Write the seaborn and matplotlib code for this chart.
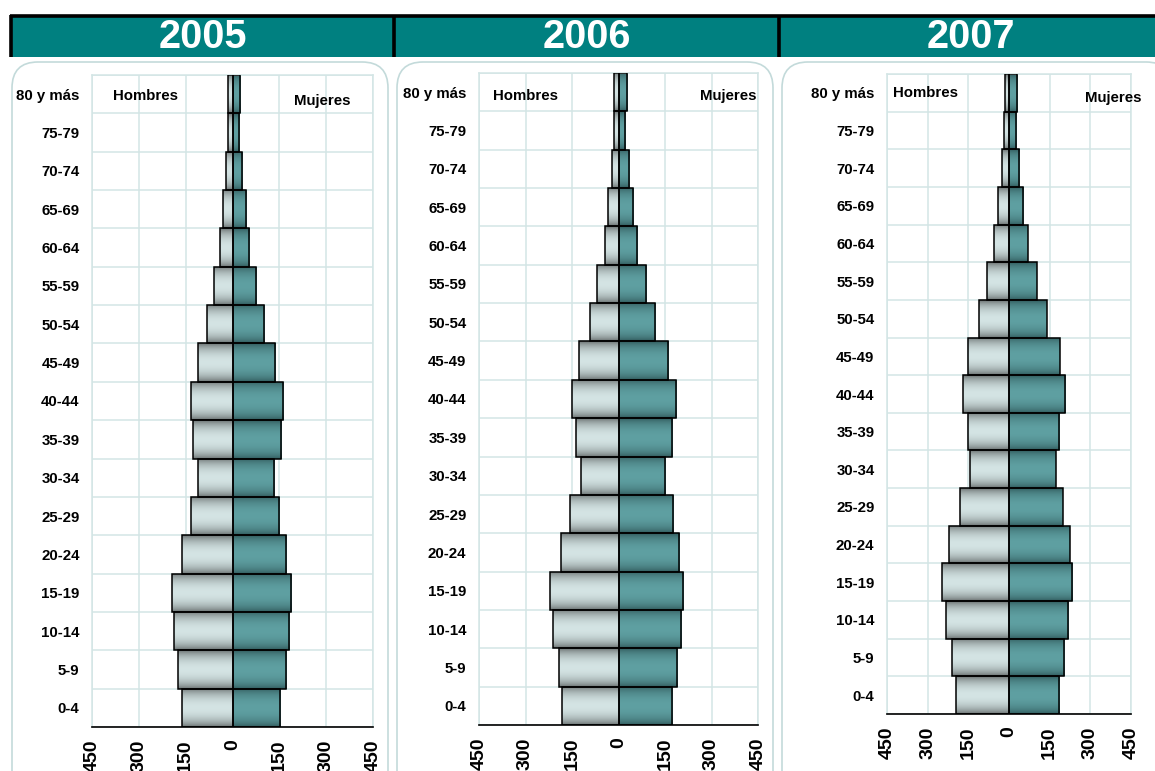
import numpy as np
import pandas as pd
import seaborn as sns
import matplotlib
matplotlib.use("Agg")
import matplotlib.pyplot as plt
from matplotlib.patches import FancyBboxPatch, Rectangle
from matplotlib.colors import to_rgb

# ---------------- data ----------------
ages = ["80 y más", "75-79", "70-74", "65-69", "60-64", "55-59", "50-54", "45-49",
        "40-44", "35-39", "30-34", "25-29", "20-24", "15-19", "10-14", "5-9", "0-4"]
years = ["2005", "2006", "2007"]
hombres_2005 = [13, 13, 22, 31, 39, 60, 81, 111, 134, 128, 111, 134, 162, 194, 188, 175, 162]
mujeres_2005 = [23, 20, 32, 42, 52, 76, 100, 137, 162, 156, 132, 149, 171, 186, 181, 171, 151]
hombres_2006 = [14, 16, 21, 34, 45, 68, 92, 128, 150, 137, 122, 156, 187, 221, 210, 192, 182]
mujeres_2006 = [27, 21, 33, 47, 60, 89, 118, 160, 186, 172, 149, 176, 195, 207, 201, 188, 172]
hombres_2007 = [16, 18, 26, 39, 55, 81, 111, 153, 171, 151, 144, 181, 221, 247, 232, 210, 194]
mujeres_2007 = [30, 26, 38, 52, 70, 103, 140, 188, 207, 185, 173, 199, 225, 234, 219, 203, 185]
x_ticks = [-450, -300, -150, 0, 150, 300, 450]
x_tick_labels = ["450", "300", "150", "0", "150", "300", "450"]

hombres = [hombres_2005, hombres_2006, hombres_2007]
mujeres = [mujeres_2005, mujeres_2006, mujeres_2007]

# ---------------- style ----------------
sns.set_style("white")
plt.rcParams["font.family"] = ["Liberation Sans", "DejaVu Sans"]
plt.rcParams["font.weight"] = "bold"
plt.rcParams["text.color"] = "black"
plt.rcParams["xtick.color"] = "black"
plt.rcParams["ytick.color"] = "black"
plt.rcParams["xtick.labelcolor"] = "black"
plt.rcParams["ytick.labelcolor"] = "black"

W, H = 1155, 771
fig = plt.figure(figsize=(W / 100, H / 100), dpi=100)

TEAL = "#008080"
GRID = "#D3E5E5"
BOXEDGE = "#C3DADA"

# background axes in pixel coordinates
bg = fig.add_axes([0, 0, 1, 1], zorder=-10)
bg.set_xlim(0, W)
bg.set_ylim(H, 0)
bg.axis("off")

# rounded panel boxes
panel_boxes = [(12, 62, 376), (397, 62, 376), (782, 62, 390)]
for (bx, by, bw) in panel_boxes:
    bg.add_patch(FancyBboxPatch((bx, by), bw, 780, boxstyle="round,pad=0,rounding_size=26",
                                facecolor="white", edgecolor=BOXEDGE, lw=1.2))

# header band
bg.add_patch(Rectangle((10, 16), 1160, 41, facecolor=TEAL, edgecolor="none"))
bg.plot([10, 1160], [15.5, 15.5], color="black", lw=2.6, solid_capstyle="butt")
for sx in [11, 394, 779]:
    bg.plot([sx, sx], [15, 57], color="black", lw=2.6, solid_capstyle="butt")
header_centers = [203, 587, 971]
for yr, cx in zip(years, header_centers):
    bg.text(cx, 37, yr, color="white", fontsize=28.5, fontweight="bold",
            ha="center", va="center")

# plot areas (pixels): left, right, top, bottom
areas = [(92, 373, 75, 727), (479, 758, 73, 725), (887, 1131, 74, 714)]
hombres_pos = [(145, 96), (526, 96), (925, 93)]
mujeres_pos = [(322, 101), (728, 96), (1113, 98)]


def shade(ax, patches, dark, light, power):
    t = np.linspace(0, 1, 80)
    f = np.sin(np.pi * t) ** power
    d = np.array(to_rgb(dark))
    l = np.array(to_rgb(light))
    img = (d[None, :] * (1 - f[:, None]) + l[None, :] * f[:, None])[:, None, :]
    for p in patches:
        x0, y0 = p.get_x(), p.get_y()
        w, h = p.get_width(), p.get_height()
        im = ax.imshow(img, extent=(min(x0, x0 + w), max(x0, x0 + w), y0 + h, y0),
                       aspect="auto", zorder=2, interpolation="bilinear")
        im.set_clip_path(p)
        p.set_facecolor("none")
        p.set_zorder(3)


for i in range(3):
    l, r, t, b = areas[i]
    ax = fig.add_axes([l / W, 1 - b / H, (r - l) / W, (b - t) / H])
    ax.set_facecolor("none")
    df = pd.DataFrame({"edad": ages,
                       "hombres": -np.array(hombres[i], dtype=float),
                       "mujeres": np.array(mujeres[i], dtype=float)})
    sns.barplot(data=df, x="hombres", y="edad", order=ages, orient="h", width=1.0,
                color="#CCCCCC", edgecolor="black", linewidth=1.1, ax=ax)
    n_h = len(ax.patches)
    sns.barplot(data=df, x="mujeres", y="edad", order=ages, orient="h", width=1.0,
                color="#5F9EA0", edgecolor="black", linewidth=1.1, ax=ax)
    men_p = list(ax.patches[:n_h])
    wom_p = list(ax.patches[n_h:])
    shade(ax, men_p, "#5E6464", "#D4E4E4", 0.6)
    shade(ax, wom_p, "#284E50", "#5FA0A2", 0.5)

    ax.set_xlim(-450, 450)
    ax.set_ylim(len(ages) - 0.5, -0.5)
    ax.set_xlabel("")
    ax.set_ylabel("")
    ax.set_xticks(x_ticks)
    ax.set_xticklabels(x_tick_labels, rotation=90, fontsize=14, fontweight="bold",
                       color="black")
    ax.set_yticks(range(len(ages)))
    ax.set_yticklabels(ages, fontsize=10.8, fontweight="bold", color="black")
    ax.set_yticks(np.arange(-0.5, len(ages), 1), minor=True)
    ax.tick_params(axis="y", which="both", length=0, pad=9)
    ax.tick_params(axis="x", length=4, width=1, color="black", pad=5, direction="out")
    ax.set_axisbelow(True)
    ax.grid(axis="x", color=GRID, lw=1.1)
    ax.grid(axis="y", which="minor", color=GRID, lw=1.1)
    ax.grid(axis="y", which="major", visible=False)
    for s in ["left", "top", "right"]:
        ax.spines[s].set_color(GRID)
        ax.spines[s].set_linewidth(1.1)
    ax.spines["bottom"].set_color("black")
    ax.spines["bottom"].set_linewidth(1.2)

    hx, hy = hombres_pos[i]
    mx, my = mujeres_pos[i]
    fig.text(hx / W, 1 - hy / H, "Hombres", fontsize=10.8, fontweight="bold",
             ha="center", va="center", color="black")
    fig.text(mx / W, 1 - my / H, "Mujeres", fontsize=10.8, fontweight="bold",
             ha="center", va="center", color="black")

fig.savefig("out.png", dpi=100)
